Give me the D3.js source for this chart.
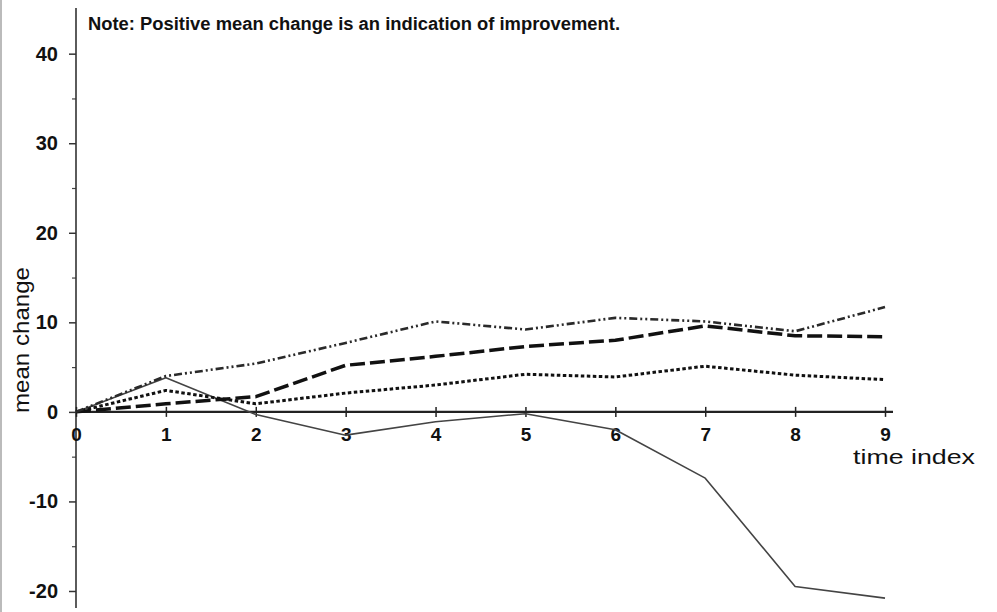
<!DOCTYPE html>
<html>
<head>
<meta charset="utf-8">
<script src="https://cdn.jsdelivr.net/npm/d3@7"></script>
<style>
  html, body { margin: 0; padding: 0; background: #fff; }
  svg { display: block; }
</style>
</head>
<body>
<svg id="chart" width="997" height="612"></svg>
<script>
// data
const timeIndex = [0, 1, 2, 3, 4, 5, 6, 7, 8, 9];
const solidSeries = [0, 3.8, -0.3, -2.6, -1.1, -0.2, -2.0, -7.4, -19.5, -20.8];
const dashDotSeries = [0, 4.0, 5.4, 7.7, 10.1, 9.2, 10.5, 10.1, 9.0, 11.7];
const dashedSeries = [0, 0.9, 1.7, 5.2, 6.2, 7.3, 8.0, 9.6, 8.5, 8.4];
const dottedSeries = [0, 2.4, 0.9, 2.1, 3.0, 4.2, 3.9, 5.1, 4.1, 3.6];
const yMajorTicks = [-20, -10, 0, 10, 20, 30, 40];
const yMinorTicks = [-15, -5, 5, 15, 25, 35];
const noteText = "Note: Positive mean change is an indication of improvement.";

const svg = d3.select("#chart");
const font = "'Liberation Sans', Arial, sans-serif";

const x = d3.scaleLinear().domain([0, 9]).range([76, 885]);
const y = d3.scaleLinear().domain([-21.9, 45.1]).range([608, 8]);

// left frame line
svg.append("line")
    .attr("x1", 1).attr("y1", 0)
    .attr("x2", 1).attr("y2", 612)
    .attr("stroke", "#bbb")
    .attr("stroke-width", 2);

// y axis, major ticks
const yAxis = svg.append("g")
    .attr("transform", `translate(${x(0)},0)`)
    .call(d3.axisLeft(y).tickValues(yMajorTicks).tickFormat(d => String(d))
        .tickSize(7).tickPadding(11).tickSizeOuter(0));
yAxis.select(".domain").remove();
yAxis.selectAll("line").attr("stroke", "#333").attr("stroke-width", 1.5);
yAxis.selectAll("text")
    .style("font-family", font)
    .style("font-size", "20px")
    .style("font-weight", "bold")
    .attr("fill", "#111");

// y axis, minor ticks
const yMinor = svg.append("g")
    .attr("transform", `translate(${x(0)},0)`)
    .call(d3.axisLeft(y).tickValues(yMinorTicks).tickSize(4).tickFormat(""));
yMinor.select(".domain").remove();
yMinor.selectAll("line").attr("stroke", "#444").attr("stroke-width", 1.2);

// y axis line
svg.append("line")
    .attr("x1", x(0)).attr("y1", y.range()[1])
    .attr("x2", x(0)).attr("y2", y.range()[0])
    .attr("stroke", "#333")
    .attr("stroke-width", 1.6);

// x axis at zero
const xAxis = svg.append("g")
    .attr("transform", `translate(0,${y(0)})`)
    .call(d3.axisBottom(x).tickValues(timeIndex).tickFormat(d3.format("d"))
        .tickSize(5).tickPadding(11).tickSizeOuter(0));
xAxis.select(".domain").remove();
xAxis.selectAll("line")
    .attr("y1", -5)
    .attr("stroke", "#222")
    .attr("stroke-width", 1.5);
xAxis.selectAll("text")
    .style("font-family", font)
    .style("font-size", "19px")
    .style("font-weight", "bold")
    .attr("fill", "#111");

svg.append("line")
    .attr("x1", x(0)).attr("y1", y(0))
    .attr("x2", x(9) + 8).attr("y2", y(0))
    .attr("stroke", "#222")
    .attr("stroke-width", 2.4);

// series lines
const series = [
    { values: solidSeries, stroke: "#444", width: 1.6, dash: null },
    { values: dottedSeries, stroke: "#111", width: 3, dash: "3.5,2.5" },
    { values: dashedSeries, stroke: "#111", width: 3.5, dash: "15,5" },
    { values: dashDotSeries, stroke: "#2a2a2a", width: 2.6, dash: "8,3,2,3,2,3" }
];

const line = d3.line()
    .x((d, i) => x(timeIndex[i]))
    .y(d => y(d));

series.forEach(s => {
    svg.append("path")
        .datum(s.values)
        .attr("fill", "none")
        .attr("stroke", s.stroke)
        .attr("stroke-width", s.width)
        .attr("stroke-dasharray", s.dash)
        .attr("stroke-linejoin", "round")
        .attr("d", line);
});

// note text
svg.append("text")
    .attr("x", 88)
    .attr("y", 30)
    .attr("textLength", 532)
    .attr("lengthAdjust", "spacingAndGlyphs")
    .style("font-family", font)
    .style("font-size", "18px")
    .style("font-weight", "bold")
    .style("fill", "#111")
    .text(noteText);

// axis titles
svg.append("text")
    .attr("x", 853)
    .attr("y", 464)
    .attr("textLength", 122)
    .attr("lengthAdjust", "spacingAndGlyphs")
    .style("font-family", font)
    .style("font-size", "20px")
    .style("fill", "#111")
    .text("time index");

svg.append("text")
    .attr("transform", "translate(29,413) rotate(-90)")
    .attr("textLength", 146)
    .attr("lengthAdjust", "spacingAndGlyphs")
    .style("font-family", font)
    .style("font-size", "22px")
    .style("fill", "#111")
    .text("mean change");
</script>
</body>
</html>
